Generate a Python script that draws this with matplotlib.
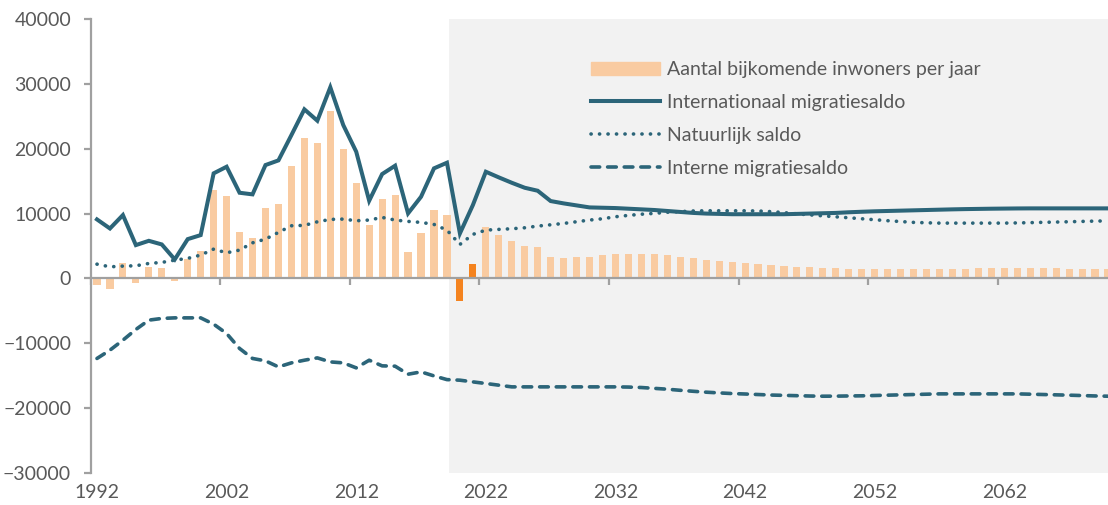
import numpy as np
import matplotlib.pyplot as plt
from matplotlib.patches import Patch
from matplotlib.lines import Line2D

plt.rcParams['font.family'] = ['Lato', 'DejaVu Sans']

years = np.arange(1992, 2071)

# aantal bijkomende inwoners per jaar
bijkomend = [-1080, -1700, 2310, -680, 1700, 1540, -370, 2930, 4260, 13620,
             12750, 7190, 6170, 10800, 11420, 17370, 21600, 20920, 25810, 19900,
             14660, 8220, 12190, 12850, 4010, 6940, 10540, 9770, -3550, 2210,
             7870, 6730, 5760, 4980, 4780, 3240, 3180, 3290, 3290, 3550,
             3750, 3750, 3750, 3750, 3550, 3290, 3080, 2880, 2670, 2510,
             2310, 2160, 2050, 1900, 1800, 1700, 1590, 1590, 1490, 1440,
             1390, 1390, 1390, 1420, 1420, 1440, 1440, 1490, 1540, 1590,
             1590, 1590, 1590, 1590, 1540, 1490, 1440, 1440, 1400]

internationaal = [9100, 7700, 9770, 5140, 5800, 5240, 2930, 6060, 6680, 16200,
                  17220, 13210, 12960, 17480, 18200, 22100, 26070, 24320, 29470, 23650,
                  19540, 11980, 16090, 17380, 10030, 12590, 16970, 17840, 6940, 11310,
                  16450, 15580, 14750, 13980, 13520, 11930, 11570, 11260, 10950, 10900,
                  10850, 10750, 10650, 10550, 10400, 10250, 10100, 10000, 9950, 9900,
                  9900, 9900, 9900, 9900, 9950, 10000, 10050, 10100, 10200, 10280,
                  10350, 10400, 10450, 10500, 10550, 10600, 10650, 10690, 10720, 10750,
                  10770, 10790, 10800, 10800, 10800, 10800, 10800, 10800, 10800]

natuurlijk = [2200, 1790, 1900, 1950, 2310, 2470, 2820, 3090, 3600, 4520,
              3950, 4370, 5490, 6060, 7100, 8120, 8180, 8730, 9100, 9150,
              8890, 9000, 9410, 9000, 8790, 8640, 8330, 7450, 5240, 6790,
              7450, 7560, 7660, 7810, 8070, 8270, 8480, 8740, 9000, 9200,
              9510, 9720, 9900, 10030, 10200, 10300, 10400, 10430, 10430, 10430,
              10430, 10400, 10300, 10150, 9950, 9800, 9650, 9500, 9350, 9200,
              9050, 8900, 8770, 8640, 8580, 8530, 8530, 8530, 8530, 8530,
              8530, 8560, 8600, 8650, 8690, 8740, 8790, 8840, 8870]

intern = [-12340, -11060, -9520, -7870, -6430, -6170, -6080, -6080, -6080, -7050,
          -8490, -10800, -12340, -12710, -13640, -13020, -12610, -12250, -12870, -13020,
          -13790, -12610, -13480, -13530, -14770, -14410, -15030, -15600, -15690, -15950,
          -16200, -16460, -16720, -16720, -16720, -16720, -16720, -16720, -16720, -16720,
          -16720, -16750, -16820, -16950, -17080, -17250, -17400, -17540, -17650, -17750,
          -17820, -17900, -17980, -18030, -18080, -18130, -18160, -18150, -18120, -18100,
          -18050, -18000, -17950, -17900, -17850, -17800, -17800, -17800, -17800, -17800,
          -17800, -17800, -17850, -17900, -17950, -18000, -18060, -18120, -18160]

covid_jaren = [2020, 2021]
prognose_start = 2019.15
tick_jaren = [1992, 2002, 2012, 2022, 2032, 2042, 2052, 2062]

teal = '#2C6579'
peach = '#F9CBA1'
orange = '#F4831F'
grey = '#A0A0A0'
txt = '#595959'

dots = (0, (0.05, 2.3))
dashes = (0, (2.4, 2.2))

fig = plt.figure(figsize=(11.08, 5.05), dpi=100)
ax = fig.add_axes([90.5 / 1108, 32 / 505, 1 - 90.5 / 1108, 454 / 505])

ax.axvspan(prognose_start, 2075, color='#F2F2F2', lw=0, zorder=0)

kleuren = [orange if j in covid_jaren else peach for j in years]
ax.bar(years, bijkomend, width=0.55, color=kleuren, zorder=1)

ax.plot(years, internationaal, color=teal, lw=2.9, solid_joinstyle='miter', zorder=3)
ax.plot(years, natuurlijk, color=teal, lw=2.6, linestyle=dots,
        dash_capstyle='round', zorder=3)
ax.plot(years, intern, color=teal, lw=2.6, linestyle=dashes,
        dash_capstyle='round', zorder=3)

ax.set_xlim(1991.55, 2070.0)
ax.set_ylim(-30000, 40000)

for s in ['top', 'right']:
    ax.spines[s].set_visible(False)
ax.spines['bottom'].set_position(('data', 0))
for s in ['left', 'bottom']:
    ax.spines[s].set_color(grey)
    ax.spines[s].set_linewidth(1.6)
    ax.spines[s].set_zorder(2)

ax.set_yticks(range(-30000, 40001, 10000))
ax.tick_params(axis='y', length=5, width=1.6, color=grey, pad=9,
               labelsize=14, labelcolor=txt)
# tick marks between categories, labels centred on the year itself
ax.set_xticks([j - 0.5 for j in tick_jaren])
ax.tick_params(axis='x', length=5, width=1.6, color=grey, labelbottom=False)
for j in tick_jaren:
    ax.text(j, -0.044, str(j), transform=ax.get_xaxis_transform(),
            ha='center', va='center', fontsize=14, color=txt)

handles = [Patch(color=peach),
           Line2D([], [], color=teal, lw=2.9),
           Line2D([], [], color=teal, lw=2.6, linestyle=dots, dash_capstyle='round'),
           Line2D([], [], color=teal, lw=2.6, linestyle=dashes, dash_capstyle='round')]
labels = ['Aantal bijkomende inwoners per jaar', 'Internationaal migratiesaldo',
          'Natuurlijk saldo', 'Interne migratiesaldo']
leg = fig.legend(handles, labels, loc='upper left', bbox_to_anchor=(591 / 1108, 1 - 61 / 505),
                 frameon=False, fontsize=14, handlelength=3.55, handleheight=0.65,
                 handletextpad=0.35, labelspacing=0.82, borderpad=0, borderaxespad=0)
for t in leg.get_texts():
    t.set_color(txt)

fig.savefig('out.png', dpi=100)
